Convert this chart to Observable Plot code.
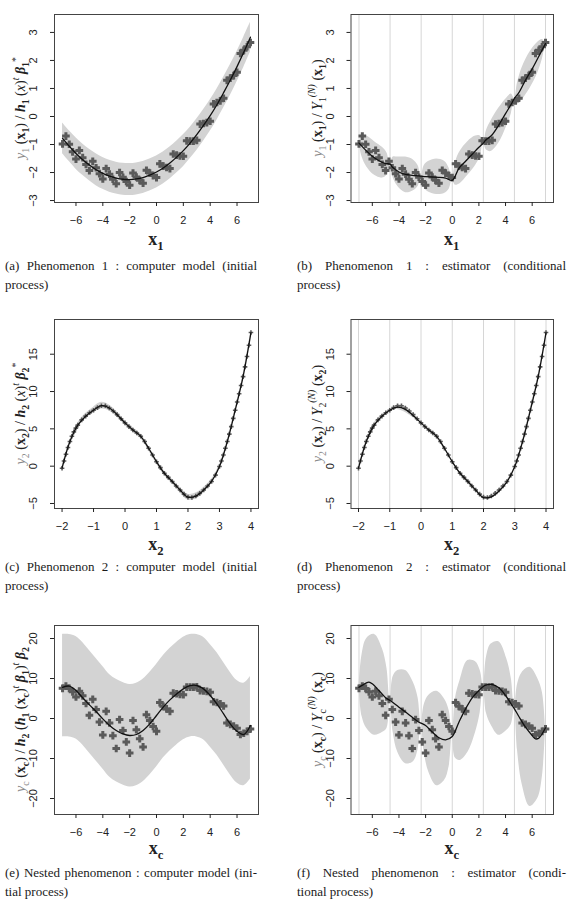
<!DOCTYPE html>
<html><head><meta charset="utf-8">
<script src="https://cdn.jsdelivr.net/npm/d3@7"></script>
<script src="https://cdn.jsdelivr.net/npm/@observablehq/plot@0.6"></script>
<style>
body{margin:0;background:#fff;width:567px;height:916px;overflow:hidden;position:relative;}
.panel{position:absolute;}
.cap{position:absolute;font-family:"Liberation Serif","Times New Roman",serif;font-size:13px;line-height:20px;color:#1a1a1a;white-space:nowrap;}
</style></head><body>
<script>
// ---------- Phenomenon 1 ----------
const x1Obs = [-7,-6.75,-6.5,-6.25,-6,-5.75,-5.5,-5.25,-5,-4.75,-4.5,-4.25,-4,-3.75,-3.5,-3.25,-3,-2.75,-2.5,-2.25,-2,-1.75,-1.5,-1.25,-1,-0.75,-0.5,-0.25,0,0.25,0.5,0.75,1,1.25,1.5,1.75,2,2.25,2.5,2.75,3,3.25,3.5,3.75,4,4.25,4.5,4.75,5,5.25,5.5,5.75,6,6.25,6.5,6.75,7];
const y1Obs = [-0.98,-0.70,-0.99,-1.26,-1.52,-1.21,-1.47,-1.71,-1.93,-1.60,-1.83,-2.04,-2.23,-1.86,-2.06,-2.24,-2.40,-2.00,-2.17,-2.32,-2.45,-2.02,-2.16,-2.28,-2.38,-1.92,-2.02,-2.11,-2.18,-1.69,-1.77,-1.82,-1.86,-1.34,-1.38,-1.41,-1.42,-0.87,-0.88,-0.88,-0.85,-0.27,-0.25,-0.22,-0.17,0.45,0.50,0.56,0.65,1.29,1.37,1.46,1.58,2.25,2.36,2.49,2.64];
const x1Grid = [-7,-6.5,-6,-5.5,-5,-4.5,-4,-3.5,-3,-2.5,-2,-1.5,-1,-0.5,0,0.5,1,1.5,2,2.5,3,3.5,4,4.5,5,5.5,6,6.5,7];
const y1Mean = [-0.78,-1.06,-1.32,-1.54,-1.73,-1.90,-2.03,-2.13,-2.20,-2.24,-2.25,-2.23,-2.18,-2.09,-1.98,-1.84,-1.66,-1.45,-1.22,-0.95,-0.65,-0.32,0.03,0.42,0.85,1.30,1.78,2.29,2.83];
const y1Half = [0.55,0.55,0.56,0.56,0.56,0.57,0.57,0.57,0.57,0.57,0.57,0.57,0.57,0.57,0.57,0.57,0.57,0.57,0.57,0.56,0.56,0.56,0.56,0.55,0.55,0.55,0.54,0.54,0.53];
const knots1 = [-7,-4.667,-2.333,0,2.333,4.667,7];
const x1Cond = [-7,-6.5,-6,-5.5,-5,-4.667,-4.5,-4,-3.5,-3,-2.5,-2.333,-2,-1.5,-1,-0.5,0,0.5,1,1.5,2,2.333,2.5,3,3.5,4,4.5,4.667,5,5.5,6,6.5,7];
const y1CondMean = [-0.95,-1.2,-1.42,-1.58,-1.68,-1.7,-1.8,-1.98,-2.07,-2.1,-2.12,-2.13,-2.15,-2.16,-2.17,-2.2,-2.28,-1.85,-1.6,-1.35,-1.1,-0.95,-0.85,-0.65,-0.3,0.1,0.5,0.65,0.85,1.3,1.7,2.15,2.6];
const xCondBand = [-7,-6.767,-6.417,-5.833,-5.25,-4.9,-4.667,-4.433,-4.083,-3.5,-2.917,-2.567,-2.333,-2.1,-1.75,-1.167,-0.583,-0.233,0,0.233,0.583,1.167,1.75,2.1,2.333,2.567,2.917,3.5,4.083,4.433,4.667,4.9,5.25,5.833,6.417,6.767,7];
const y1CondLow = [-0.95,-1.45,-1.8,-2.1,-2.2,-2.1,-1.7,-2.2,-2.5,-2.72,-2.65,-2.5,-2.13,-2.55,-2.7,-2.78,-2.75,-2.6,-2.28,-2.45,-2.4,-2.1,-1.75,-1.45,-0.95,-1.2,-1.25,-0.95,-0.35,0.1,0.65,0.45,0.6,1.0,1.55,2.05,2.6];
const y1CondHigh = [-0.95,-0.7,-0.7,-0.9,-1.1,-1.3,-1.7,-1.45,-1.45,-1.45,-1.55,-1.75,-2.13,-1.75,-1.6,-1.52,-1.6,-1.85,-2.28,-1.65,-1.25,-0.9,-0.7,-0.7,-0.95,-0.5,-0.15,0.3,0.65,0.8,0.65,1.2,1.75,2.3,2.65,2.75,2.6];

// ---------- Phenomenon 2 ----------
const x2Obs = [-2,-1.9375,-1.875,-1.8125,-1.75,-1.6875,-1.625,-1.5625,-1.5,-1.375,-1.25,-1.125,-1,-0.875,-0.75,-0.625,-0.5,-0.375,-0.25,-0.125,0,0.125,0.25,0.375,0.5,0.625,0.75,0.875,1,1.125,1.25,1.375,1.5,1.625,1.75,1.875,2,2.125,2.25,2.375,2.5,2.625,2.75,2.875,3,3.0625,3.125,3.1875,3.25,3.3125,3.375,3.4375,3.5,3.5625,3.625,3.6875,3.75,3.8125,3.875,3.9375,4];
const y2Obs = [-0.27,0.7,1.6,2.5,3.3,4.0,4.6,5.1,5.5,6.2,6.7,7.15,7.5,7.85,8.1,8.1,7.8,7.4,6.9,6.35,5.8,5.3,4.85,4.45,4.0,3.3,2.4,1.5,0.6,-0.2,-0.95,-1.5,-2.05,-2.65,-3.2,-3.75,-4.15,-4.2,-4.0,-3.65,-3.2,-2.65,-2.05,-1.2,-0.05,0.7,1.5,2.4,3.3,4.3,5.3,6.4,7.5,8.6,9.7,10.8,12.0,13.3,14.7,16.2,17.9];
const x2Grid = [-2,-1.75,-1.5,-1.25,-1,-0.75,-0.5,-0.25,0,0.25,0.5,0.75,1,1.25,1.5,1.75,2,2.25,2.5,2.75,3,3.25,3.5,3.75,4];
const y2Mean = [-0.27,3.3,5.5,6.7,7.5,8.1,7.8,6.9,5.8,4.85,4.0,2.4,0.6,-0.95,-2.05,-3.2,-4.15,-4.0,-3.2,-2.05,-0.05,3.3,7.5,12.0,17.9];
const y2Half = [0.2,0.25,0.3,0.35,0.4,0.45,0.4,0.35,0.3,0.3,0.3,0.3,0.3,0.3,0.3,0.35,0.4,0.4,0.35,0.3,0.25,0.25,0.25,0.25,0.2];
const knots2 = [-2,-1,0,1,2,3,4];
const y2CondMean = [-0.27,3.3,5.5,6.7,7.5,7.9,7.6,6.8,5.8,4.85,4.0,2.4,0.6,-0.95,-2.05,-3.2,-4.2,-4.1,-3.3,-2.1,-0.05,3.3,7.5,12.0,17.9];
const y2CondHalf = [0,0.2,0.3,0.2,0,0.3,0.4,0.3,0,0.2,0.3,0.2,0,0.2,0.3,0.2,0,0.2,0.3,0.2,0,0.2,0.3,0.2,0];

// ---------- Nested phenomenon ----------
const ycObs = [7.55,8.1,7.53,6.66,5.37,6.84,5.67,3.75,0.8,4.8,2.25,-0.9,-4.1,1.8,-1.1,-4.3,-7.5,-0.27,-3.0,-5.85,-8.65,-0.5,-2.8,-5.05,-7.11,0.95,-0.5,-2.0,-3.2,3.97,3.05,2.4,1.8,6.34,6.18,6.0,5.95,7.86,7.84,7.84,7.9,6.98,6.9,6.77,6.55,4.18,4.0,3.66,3.12,-1.13,-1.48,-1.87,-2.43,-4.0,-3.69,-3.24,-2.6];
const ycMean = [7.8,8.1,7.0,5.2,3.4,1.75,-0.1,-1.75,-3.0,-3.85,-4.25,-4.0,-3.0,-1.35,0.75,2.85,4.65,6.15,7.4,8.2,8.25,7.4,5.75,3.65,1.15,-1.35,-3.2,-4.0,-1.75];
const ycHigh = [21,21,20.5,19,17,15,13,11,9.8,9,8.5,8.8,9.8,11.5,13.5,15.7,17.5,19,20.3,21,21,20.3,18.5,16.5,14,11.5,9.5,8.8,10.5];
const ycLow = [-4.6,-4.6,-5.1,-6.6,-8.6,-10.6,-12.6,-14.6,-15.8,-16.6,-17.1,-16.8,-15.8,-14.1,-12.1,-9.9,-8.1,-6.6,-5.3,-4.6,-4.6,-5.3,-7.1,-9.1,-11.6,-14.1,-16.1,-16.8,-15.1];
const xcCond = [-7,-6.5,-6.25,-6,-5.5,-5,-4.667,-4.5,-4,-3.5,-3,-2.5,-2.333,-2,-1.5,-1,-0.5,0,0.5,1,1.5,2,2.333,2.5,3,3.5,4,4.5,4.667,5,5.5,6,6.25,6.5,6.75,7];
const ycCondMean = [7.8,8.8,9.1,8.67,7.0,5.2,4.5,4.1,2.83,1.6,0.33,-0.92,-1.17,-1.75,-3.4,-4.8,-5.33,-4.5,-0.92,2.42,5.17,7.0,8.0,8.33,8.5,7.67,5.75,3.25,2.42,0.5,-2.17,-4.25,-5.1,-4.9,-3.83,-2.33];
const ycCondLow = [7.8,0.5,-2.5,-4.2,-3.5,-2.5,4.5,-3.5,-8.5,-11.3,-10.8,-7.8,-1.2,-8.5,-13.5,-16.8,-15.5,-12,-4.5,-9.9,-10.5,-8.5,-3.5,1.5,8,1.3,-1.6,-4.2,-3.0,-1.5,2.4,-8,-16.5,-22,-20,-14.5,-2.3];
const ycCondHigh = [7.8,16.0,20.0,21.0,17.5,12.5,4.5,10.5,12.0,12.0,9.0,5.2,-1.2,3.5,5.8,6.8,4.9,2,-4.5,4.9,9.5,14.5,14.2,12.0,8,15.3,18.6,19.2,15.0,10.0,2.4,8.5,11.5,12.8,10,6.5,-2.3];

// ---------- ticks & captions ----------
const ticksX7 = [-6,-4,-2,0,2,4,6];
const ticksX2 = [-2,-1,0,1,2,3,4];
const ticksY1 = [-3,-2,-1,0,1,2,3];
const ticksY2 = [-5,0,5,10,15];
const ticksYc = [-20,-10,0,10,20];
const captionLines = [
  ["(a) Phenomenon 1 : computer model (initial", "process)"],
  ["(b) Phenomenon 1 : estimator (conditional", "process)"],
  ["(c) Phenomenon 2 : computer model (initial", "process)"],
  ["(d) Phenomenon 2 : estimator (conditional", "process)"],
  ["(e) Nested phenomenon : computer model (ini-", "tial process)"],
  ["(f) Nested phenomenon : estimator (condi-", "tional process)"]
];

// ---------- helpers ----------
const fmt = d => d < 0 ? "\u2212" + (-d) : String(d);
const pts = (xs, ys) => xs.map((x, i) => ({x, y: ys[i]}));
const bandHW = (xs, m, h) => xs.map((x, i) => ({x, lo: m[i] - h[i], hi: m[i] + h[i]}));
const bandLH = (xs, lo, hi) => xs.map((x, i) => ({x, lo: lo[i], hi: hi[i]}));

const BAND = "#d3d3d3", RULE = "#d6d6d6", PT = "#5a5a5a", LINE = "#111";
const bigDots = d => Plot.dot(d, {x: "x", y: "y", symbol: "plus", r: 2.6, stroke: PT, strokeWidth: 3});
const smallDots = d => Plot.dot(d, {x: "x", y: "y", symbol: "plus", r: 1.6, stroke: PT, strokeWidth: 1.6});
const area = d => Plot.areaY(d, {x: "x", y1: "lo", y2: "hi", fill: BAND, curve: "catmull-rom"});
const meanLine = d => Plot.line(d, {x: "x", y: "y", stroke: LINE, strokeWidth: 1.3, curve: "catmull-rom"});
const rules = k => Plot.ruleX(k, {stroke: RULE, strokeWidth: 1});

function mathText(svg, x, y, tokens, size, rotate) {
  const t = d3.select(svg).append("text")
    .attr("x", x).attr("y", y).attr("text-anchor", "middle")
    .attr("font-family", "'Liberation Serif','Times New Roman',serif")
    .attr("font-size", size).attr("fill", "#222");
  if (rotate) t.attr("transform", `rotate(${rotate},${x},${y})`);
  let cur = 0;
  for (const [txt, st = ""] of tokens) {
    let target = 0, fs = size;
    if (st.includes("_")) { target = size * 0.3; fs = size * 0.7; }
    if (st.includes("^")) { target = -size * 0.45; fs = size * 0.7; }
    const ts = t.append("tspan").text(txt).attr("font-size", fs).attr("dy", target - cur);
    cur = target;
    if (st.includes("i")) ts.attr("font-style", "italic");
    if (st.includes("b")) ts.attr("font-weight", "bold");
    if (st.includes("g")) ts.attr("fill", "#8a8a8a");
  }
}

const xl = s => [["x", "b"], [s, "b_"]];
const yLabels = {
  a: [["y","ig"],["1","_g"],[" ("],["x","b"],["1","b_"],[")"],[" / "],["h","bi"],["1","b_"],[" ("],["x","i"],[")"],["t","i^"],[" "],["β","bi"],["1","b_"],["*","^"]],
  b: [["y","ig"],["1","_g"],[" ("],["x","b"],["1","b_"],[")"],[" / "],["Y","i"],["1","_"],["(N)","i^"],[" ("],["x","b"],["1","b_"],[")"]],
  c: [["y","ig"],["2","_g"],[" ("],["x","b"],["2","b_"],[")"],[" / "],["h","bi"],["2","b_"],[" ("],["x","i"],[")"],["t","i^"],[" "],["β","bi"],["2","b_"],["*","^"]],
  d: [["y","ig"],["2","_g"],[" ("],["x","b"],["2","b_"],[")"],[" / "],["Y","i"],["2","_"],["(N)","i^"],[" ("],["x","b"],["2","b_"],[")"]],
  e: [["y","ig"],["c","_g"],[" ("],["x","b"],["c","b_"],[")"],[" / "],["h","bi"],["2","b_"],[" ("],["h","bi"],["1","b_"],[" ("],["x","b"],["c","b_"],[")"],["t","i^"],[" "],["β","bi"],["1","b_"],[")"],["t","i^"],[" "],["β","bi"],["2","b_"]],
  f: [["y","ig"],["c","_g"],[" ("],["x","b"],["c","b_"],[")"],[" / "],["Y","i"],["c","_"],["(N)","i^"],[" ("],["x","b"],["c","b_"],[")"]]
};

function panel(cfg) {
  const mT = 14, mB = 56;
  const svg = Plot.plot({
    width: cfg.width, height: mT + cfg.frameH + mB,
    marginLeft: cfg.mL, marginRight: cfg.mR, marginTop: mT, marginBottom: mB,
    style: {background: "transparent", overflow: "visible", fontFamily: "'Liberation Sans', Arial, sans-serif", fontSize: "11px", color: "#222"},
    x: {domain: cfg.xDomain}, y: {domain: cfg.yDomain},
    marks: [
      ...cfg.marks,
      Plot.frame({stroke: "#444", strokeWidth: 1}),
      Plot.axisX(cfg.xTicks, {tickSize: 4, tickPadding: 10, tickFormat: fmt, fontSize: 11, label: null}),
      Plot.axisY(cfg.yTicks, {tickSize: 4, tickFormat: () => "", label: null}),
      Plot.text(cfg.yTicks, {y: d => d, text: fmt, frameAnchor: "left", dx: -21, rotate: -90, textAnchor: "middle", lineAnchor: "middle", fontSize: 11, fill: "#222"})
    ]
  });
  const fw = cfg.width - cfg.mL - cfg.mR;
  mathText(svg, cfg.mL + fw / 2, mT + cfg.frameH + cfg.xLabOff, cfg.xLab, 18, 0);
  mathText(svg, cfg.mL - 29, mT + cfg.frameH / 2, cfg.yLab, 14, -90);
  const div = document.createElement("div");
  div.className = "panel";
  div.style.left = cfg.left + "px";
  div.style.top = cfg.top + "px";
  div.appendChild(svg);
  document.body.appendChild(div);
}

const L = {width: 283, mL: 54, mR: 25, left: 0};
const R = {width: 284, mL: 67.5, mR: 14, left: 283};
const dom7 = [-7.6, 7.6], dom2 = [-2.24, 4.24];

panel({...L, top: 0, frameH: 188, xLabOff: 43, xDomain: dom7, yDomain: [-3.07, 3.64], xTicks: ticksX7, yTicks: ticksY1, xLab: xl("1"), yLab: yLabels.a,
  marks: [area(bandHW(x1Grid, y1Mean, y1Half)), bigDots(pts(x1Obs, y1Obs)), meanLine(pts(x1Grid, y1Mean))]});
panel({...R, top: 0, frameH: 188, xLabOff: 43, xDomain: dom7, yDomain: [-3.07, 3.64], xTicks: ticksX7, yTicks: ticksY1, xLab: xl("1"), yLab: yLabels.b,
  marks: [rules(knots1), area(bandLH(xCondBand, y1CondLow, y1CondHigh)), bigDots(pts(x1Obs, y1Obs)), meanLine(pts(x1Cond, y1CondMean))]});
panel({...L, top: 305, frameH: 189, xLabOff: 42, xDomain: dom2, yDomain: [-5.67, 19.65], xTicks: ticksX2, yTicks: ticksY2, xLab: xl("2"), yLab: yLabels.c,
  marks: [area(bandHW(x2Grid, y2Mean, y2Half)), smallDots(pts(x2Obs, y2Obs)), meanLine(pts(x2Grid, y2Mean))]});
panel({...R, top: 305, frameH: 189, xLabOff: 42, xDomain: dom2, yDomain: [-5.67, 19.65], xTicks: ticksX2, yTicks: ticksY2, xLab: xl("2"), yLab: yLabels.d,
  marks: [rules(knots2), area(bandHW(x2Grid, y2CondMean, y2CondHalf)), smallDots(pts(x2Obs, y2Obs)), meanLine(pts(x2Grid, y2CondMean))]});
panel({...L, top: 611, frameH: 189, xLabOff: 40, xDomain: dom7, yDomain: [-24, 23.25], xTicks: ticksX7, yTicks: ticksYc, xLab: xl("c"), yLab: yLabels.e,
  marks: [area(bandLH(x1Grid, ycLow, ycHigh)), bigDots(pts(x1Obs, ycObs)), meanLine(pts(x1Grid, ycMean))]});
panel({...R, top: 611, frameH: 189, xLabOff: 40, xDomain: dom7, yDomain: [-24, 23.25], xTicks: ticksX7, yTicks: ticksYc, xLab: xl("c"), yLab: yLabels.f,
  marks: [rules(knots1), area(bandLH(xCondBand, ycCondLow, ycCondHigh)), bigDots(pts(x1Obs, ycObs)), meanLine(pts(xcCond, ycCondMean))]});

// captions
const capPos = [[5, 256, 252], [297, 256, 269], [5, 557, 252], [297, 557, 269], [5, 863, 252], [297, 863, 269]];
captionLines.forEach(([l1, l2], i) => {
  const [left, top, w] = capPos[i];
  const d = document.createElement("div");
  d.className = "cap";
  d.style.left = left + "px"; d.style.top = top + "px";
  d.style.lineHeight = "19px";
  const s1 = document.createElement("span");
  s1.textContent = l1; s1.style.display = "inline-block";
  d.appendChild(s1);
  const s2 = document.createElement("div");
  s2.textContent = l2;
  d.appendChild(s2);
  document.body.appendChild(d);
  const nat = s1.getBoundingClientRect().width;
  const gaps = (l1.match(/ /g) || []).length;
  s1.style.wordSpacing = ((w - nat) / gaps) + "px";
});
</script>
</body></html>
